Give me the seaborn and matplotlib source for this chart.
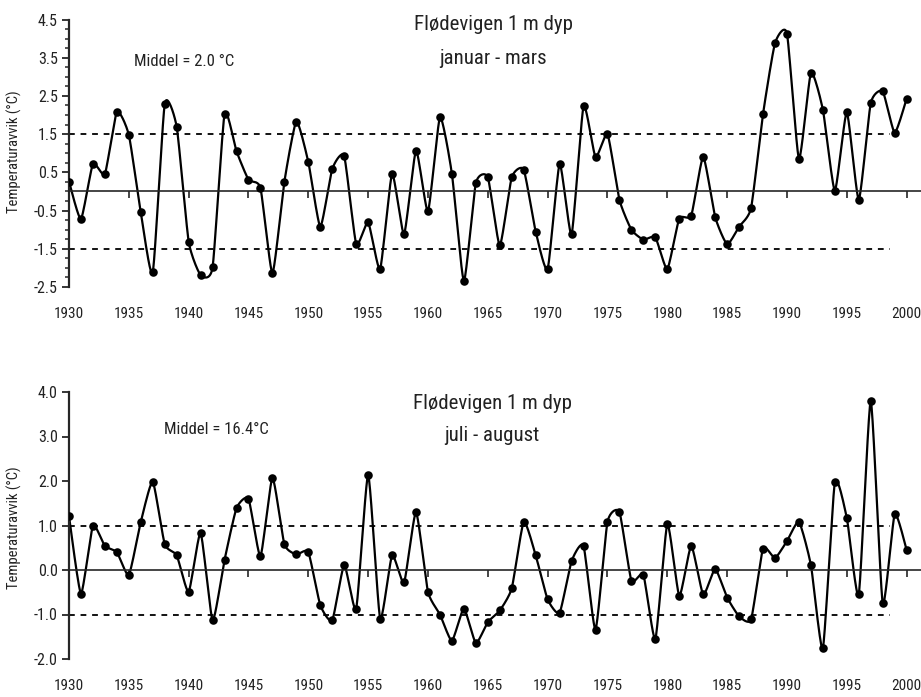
import numpy as np
import pandas as pd
import matplotlib
matplotlib.use("Agg")
import matplotlib.pyplot as plt
from matplotlib.ticker import FormatStrFormatter
import seaborn as sns

# Yearly temperature anomalies (°C) at Flødevigen, 1 m depth
years = list(range(1930, 2001))
winter_anom = [0.26, -0.72, 0.72, 0.46, 2.08, 1.48, -0.55, -2.12, 2.29, 1.69,
               -1.31, -2.19, -1.98, 2.03, 1.05, 0.31, 0.09, -2.14, 0.26, 1.83,
               0.77, -0.92, 0.59, 0.92, -1.37, -0.81, -2.03, 0.46, -1.12, 1.07,
               -0.52, 1.94, 0.46, -2.34, 0.22, 0.37, -1.41, 0.37, 0.57, -1.05,
               -2.03, 0.72, -1.12, 2.23, 0.90, 1.50, -0.22, -1.00, -1.26, -1.20,
               -2.03, -0.71, -0.63, 0.90, -0.67, -1.38, -0.92, -0.43, 2.03, 3.88,
               4.13, 0.85, 3.10, 2.14, 0.02, 2.07, -0.22, 2.31, 2.62, 1.54, 2.43]
summer_anom = [1.21, -0.53, 0.99, 0.54, 0.40, -0.11, 1.08, 1.98, 0.58, 0.33,
               -0.49, 0.83, -1.13, 0.23, 1.39, 1.60, 0.31, 2.07, 0.58, 0.35,
               0.40, -0.79, -1.13, 0.11, -0.87, 2.14, -1.09, 0.33, -0.28, 1.30,
               -0.49, -1.00, -1.59, -0.87, -1.64, -1.17, -0.91, -0.41, 1.08, 0.33,
               -0.66, -0.96, 0.20, 0.54, -1.34, 1.08, 1.30, -0.24, -0.11, -1.55,
               1.03, -0.58, 0.54, -0.55, 0.02, -0.62, -1.04, -1.11, 0.48, 0.27,
               0.65, 1.08, 0.11, -1.76, 1.97, 1.17, -0.55, 3.80, -0.75, 1.25, 0.45]

year_ticks = list(range(1930, 2001, 5))
winter_limits = [1.5, -1.5]
summer_limits = [1.0, -1.0]
winter_title = ["Flødevigen 1 m dyp", "januar - mars"]
summer_title = ["Flødevigen 1 m dyp", "juli - august"]
winter_mean = "Middel = 2.0 °C"
summer_mean = "Middel = 16.4°C"
ylabel = "Temperaturavvik (°C)"

sns.set_style("ticks")
plt.rcParams["font.family"] = ["Roboto Condensed", "DejaVu Sans"]
plt.rcParams["font.stretch"] = "condensed"
TEXT = "#222222"


def smooth_curve(x, y, steps=20, tension=0.09):
    """Cubic Bezier curve through every point, with softened tangents."""
    x = np.asarray(x, float)
    y = np.asarray(y, float)
    px = np.concatenate([[x[0]], x, [x[-1]]])
    py = np.concatenate([[y[0]], y, [y[-1]]])
    t = np.linspace(0, 1, steps, endpoint=False)[:, None]
    xs, ys = [], []
    for i in range(len(x) - 1):
        p0 = np.array([px[i], py[i]])
        p1 = np.array([px[i + 1], py[i + 1]])
        p2 = np.array([px[i + 2], py[i + 2]])
        p3 = np.array([px[i + 3], py[i + 3]])
        c1 = p1 + (p2 - p0) * tension
        c2 = p2 - (p3 - p1) * tension
        b = ((1 - t) ** 3) * p1 + 3 * ((1 - t) ** 2) * t * c1 \
            + 3 * (1 - t) * t ** 2 * c2 + t ** 3 * p2
        xs.append(b[:, 0])
        ys.append(b[:, 1])
    xs.append([x[-1]])
    ys.append([y[-1]])
    return np.concatenate(xs), np.concatenate(ys)


W, H = 921, 697
fig = plt.figure(figsize=(W / 100, H / 100), dpi=100)


def frac(x0, y_top, x1, y_bot):
    return [x0 / W, 1 - y_bot / H, (x1 - x0) / W, (y_bot - y_top) / H]


def draw_panel(ax, values, ylim, major, minor, limits, title, title_xy,
               mean_text, mean_xy, ylabel_y):
    df = pd.DataFrame({"year": years, "anom": values})
    cx, cy = smooth_curve(df["year"], df["anom"])
    sns.lineplot(x=cx, y=cy, sort=False, estimator=None, color="black",
                 lw=1.6, ax=ax)
    sns.scatterplot(data=df, x="year", y="anom", color="black", s=38,
                    edgecolor="black", linewidth=0, zorder=5, ax=ax)
    ax.hlines(limits, years[0], 1998.6, colors="black", lw=1.3,
              linestyles=(0, (3.2, 3.2)))

    ax.set_xlim(years[0], 2001.2)
    ax.set_ylim(*ylim)
    ax.set_xlabel("")
    ax.set_ylabel("")

    for side in ("top", "right"):
        ax.spines[side].set_visible(False)
    ax.spines["left"].set_linewidth(1.6)
    ax.spines["bottom"].set_position(("data", 0))
    ax.spines["bottom"].set_linewidth(1.2)

    ax.set_xticks(year_ticks)
    ax.tick_params(axis="x", direction="out", length=5, width=1.2,
                   labelbottom=False)
    ax.set_yticks(major)
    ax.yaxis.set_major_formatter(FormatStrFormatter("%.1f"))
    if minor:
        ax.set_yticks(minor, minor=True)
    ax.tick_params(axis="y", which="major", direction="out", length=5,
                   width=1.3, pad=3, labelsize=11.5, labelcolor=TEXT)
    ax.tick_params(axis="y", which="minor", direction="out", length=3,
                   width=1.1)

    for yr in year_ticks:
        ax.text(yr, -0.10, str(yr), transform=ax.get_xaxis_transform(),
                ha="center", va="center", fontsize=11, color=TEXT)

    fig.text(title_xy[0] / W, 1 - title_xy[1] / H, title[0], ha="center",
             va="center", fontsize=15, color=TEXT)
    fig.text(title_xy[0] / W, 1 - (title_xy[1] + 33) / H, title[1],
             ha="center", va="center", fontsize=15, color=TEXT)
    fig.text(mean_xy[0] / W, 1 - mean_xy[1] / H, mean_text, ha="center",
             va="center", fontsize=12, color=TEXT)
    fig.text(14 / W, 1 - ylabel_y / H, ylabel, rotation=90, ha="center",
             va="center", fontsize=10.5, color=TEXT)


ax1 = fig.add_axes(frac(69, 19.5, 921, 287))
ax2 = fig.add_axes(frac(69, 392, 921, 659))

draw_panel(ax1, winter_anom, (-2.5, 4.5),
           list(np.arange(-2.5, 4.6, 1.0)),
           [v for v in np.arange(-2.5, 4.51, 0.25)
            if abs((v + 2.5) % 1.0) > 1e-6],
           winter_limits, winter_title, (493, 25),
           winter_mean, (184, 61), 152)
draw_panel(ax2, summer_anom, (-2.0, 4.0),
           list(np.arange(-2.0, 4.1, 1.0)), [],
           summer_limits, summer_title, (492, 403),
           summer_mean, (216, 430), 528)

fig.savefig("out.png", dpi=100)
